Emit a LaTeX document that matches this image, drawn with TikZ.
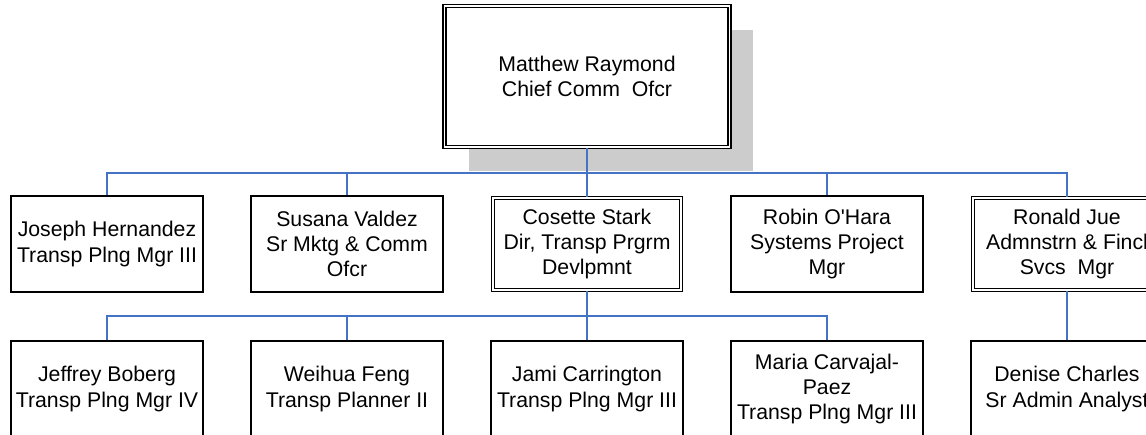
\documentclass[tikz,border=0pt]{standalone}
\usepackage{fontspec}
\setmainfont{Liberation Sans}
\usetikzlibrary{shadows}
\definecolor{linkblue}{RGB}{68,114,196}
\tikzset{
  person/.style={draw, fill=white, line width=0.75pt, align=center, inner sep=1pt,
    minimum width=3.84cm, minimum height=1.92cm, font=\fontsize{12.1}{14.4}\selectfont},
  headperson/.style={person, double, double distance=0.75pt, line width=0.8pt,
    minimum width=3.76cm, minimum height=1.84cm},
  link/.style={linkblue, line width=0.85pt},
}
\begin{document}
\begin{tikzpicture}[x=0.02cm, y=-0.02cm]
 \useasboundingbox (0,0) rectangle (1146,435);
 \clip (0,0) rectangle (1146,435);
 % chief
 \node[headperson, minimum width=5.7cm, minimum height=2.82cm,
   drop shadow={shadow xshift=0.48cm, shadow yshift=-0.48cm, fill=black!20, opacity=1}]
   (raymond) at (587,76.5) {Matthew Raymond\\Chief Comm~~Ofcr};
 % direct reports
 \node[person] (hernandez) at (107,244) {Joseph Hernandez\\Transp Plng Mgr III};
 \node[person] (valdez) at (347,244) {Susana Valdez\\Sr Mktg \& Comm\\Ofcr};
 \node[headperson] (stark) at (587,244) {Cosette Stark\\Dir, Transp Prgrm\\Devlpmnt};
 \node[person] (ohara) at (827,244) {Robin O\textquotesingle Hara\\Systems Project\\Mgr};
 \node[headperson] (jue) at (1067,244) {Ronald Jue\\Admnstrn \& Fincl\\Svcs~~Mgr};
 % second level
 \node[person] (boberg) at (107,389) {Jeffrey Boberg\\Transp Plng Mgr IV};
 \node[person] (feng) at (347,389) {Weihua Feng\\Transp Planner II};
 \node[person] (carrington) at (587,389) {Jami Carrington\\Transp Plng Mgr III};
 \node[person] (carvajal) at (827,389) {Maria Carvajal-\\Paez\\Transp Plng Mgr III};
 \node[person] (charles) at (1067,389) {Denise Charles\\Sr Admin Analyst};
 % connectors
 \coordinate (topbus) at (587,173);
 \coordinate (starkbus) at (587,316);
 \draw[link] (raymond) -- (topbus);
 \foreach \n in {hernandez,valdez,stark,ohara,jue} \draw[link] (topbus) -| (\n.north);
 \draw[link] (stark) -- (starkbus);
 \foreach \n in {boberg,feng,carrington,carvajal} \draw[link] (starkbus) -| (\n.north);
 \draw[link] (jue) -- (charles);
\end{tikzpicture}
\end{document}
